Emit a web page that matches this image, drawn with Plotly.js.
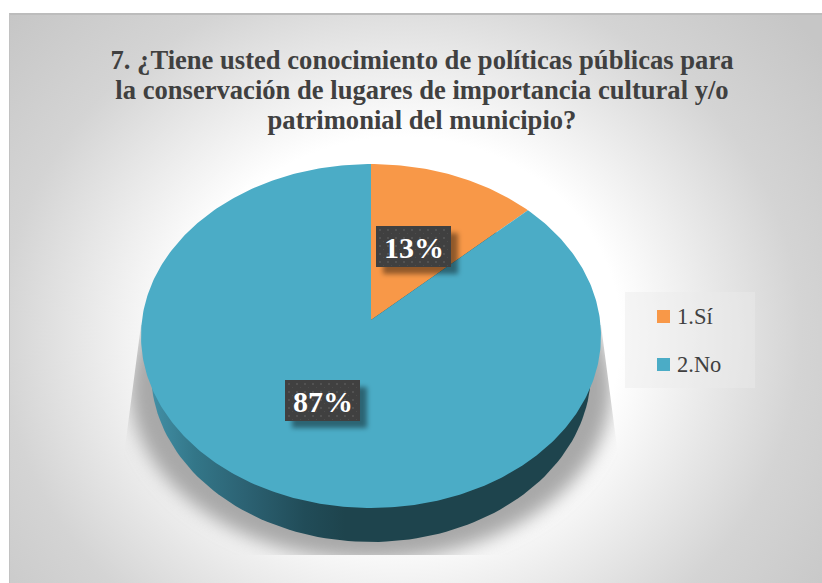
<!DOCTYPE html>
<html>
<head>
<meta charset="utf-8">
<script src="https://cdn.plot.ly/plotly-3.0.1.min.js"></script>
<style>
  html, body { margin: 0; padding: 0; background: #fff; width: 822px; height: 583px; overflow: hidden; }
  #panel {
    position: absolute; left: 9px; top: 13px; width: 813px; height: 570px;
    box-sizing: border-box; border-top: 2px solid #bcbcbc; border-left: 1px solid #c2c2c2;
    background: radial-gradient(ellipse 400px 360px at 391px 320px, #fff 55%, #d4d4d4 100%, #c6c6c6 132%);
  }
  #chart { position: absolute; left: 0; top: 0; width: 822px; height: 583px; }
</style>
</head>
<body>
<div id="panel"></div>
<div id="chart"></div>
<script>
const categories = ['1.Sí', '2.No'];
const shares = [13, 87];
const sliceColors = ['#F89848', '#4BACC6'];
const titleLines = [
  '7. ¿Tiene usted conocimiento de políticas públicas para',
  'la conservación de lugares de importancia cultural y/o',
  'patrimonial del municipio?'
];
const serif = '"Liberation Serif", serif';
const inkColor = '#404040';

// Tilted disc: a perspective map from the unit circle to the drawn top face.
const disc = { cx: 371, cy: 320, k: 229, a: -140.74, c: 0.093 };
function project(turn) {
  const ang = turn * 2 * Math.PI;
  const u = Math.sin(ang), v = Math.cos(ang), w = 1 + disc.c * v;
  return [disc.cx + disc.k * u / w, (disc.cy + disc.a * v) / w];
}

function wedge(fromShare, toShare) {
  const xs = [disc.cx], ys = [disc.cy];
  const steps = Math.ceil((toShare - fromShare) * 4);
  for (let i = 0; i <= steps; i++) {
    const p = project((fromShare + (toShare - fromShare) * i / steps) / 100);
    xs.push(p[0]); ys.push(p[1]);
  }
  xs.push(disc.cx); ys.push(disc.cy);
  return { xs, ys };
}

// Lower rim of the disc, seen below the top face.
const rim = { cx: 371, cy: 372, rx: 220, ry: 170 };
const rimX = [], rimY = [];
for (let d = 0; d <= 360; d += 2) {
  rimX.push(rim.cx + rim.rx * Math.cos(d * Math.PI / 180));
  rimY.push(rim.cy + rim.ry * Math.sin(d * Math.PI / 180));
}

const traces = [{
  type: 'scatter', mode: 'lines', x: rimX, y: rimY, fill: 'toself',
  line: { width: 0 }, hoverinfo: 'skip', showlegend: false,
  fillgradient: {
    type: 'horizontal', start: 145, stop: 345,
    colorscale: [[0, '#4493aa'], [0.25, '#337688'], [0.5, '#2c6273'], [0.8, '#214c58'], [1, '#1E444D']]
  }
}];
let running = 0;
shares.forEach((share, i) => {
  const w = wedge(running, running + share);
  running += share;
  traces.push({
    type: 'scatter', mode: 'lines', name: categories[i], x: w.xs, y: w.ys,
    fill: 'toself', fillcolor: sliceColors[i], line: { width: 0, color: sliceColors[i] },
    hoverinfo: 'name', showlegend: false
  });
});

function svgUri(w, h, body) {
  return 'data:image/svg+xml;charset=utf-8,' + encodeURIComponent(
    '<svg xmlns="http://www.w3.org/2000/svg" width="' + w + '" height="' + h + '" viewBox="0 0 ' + w + ' ' + h + '">' + body + '</svg>');
}

// Soft cast shadow under the disc, cut off by a flared clip.
const castShadow = svgUri(822, 583,
  '<defs><filter id="b" x="-20%" y="-20%" width="140%" height="140%"><feGaussianBlur stdDeviation="9"/></filter>' +
  '<clipPath id="c"><polygon points="141,325 601,325 620,470 650,555 100,555 122,470"/></clipPath></defs>' +
  '<g clip-path="url(#c)"><ellipse cx="371" cy="388" rx="241" ry="172" fill="#a8a8a8" filter="url(#b)"/></g>');

// Dark dotted plate with a drop shadow behind each percentage.
const plate = svgUri(95, 61,
  '<defs><pattern id="p" width="8" height="8" patternUnits="userSpaceOnUse"><rect width="8" height="8" fill="#404040"/>' +
  '<rect x="3" y="3" width="2" height="2" fill="#525252"/><rect x="7" y="7" width="1" height="1" fill="#4c4c4c"/></pattern>' +
  '<filter id="s" x="-20%" y="-20%" width="140%" height="140%"><feGaussianBlur stdDeviation="2.6"/></filter></defs>' +
  '<rect x="7" y="7" width="75" height="41" fill="#000" fill-opacity="0.42" filter="url(#s)"/>' +
  '<rect width="75" height="41" fill="url(#p)"/>');

const plateBoxes = [{ x: 376, y: 226 }, { x: 285, y: 380 }];
const legendRows = [316.5, 364.5];

const images = [{
  source: castShadow, xref: 'x', yref: 'y', x: 0, y: 0, sizex: 822, sizey: 583,
  xanchor: 'left', yanchor: 'top', sizing: 'stretch', layer: 'below'
}];
const annotations = [];
const shapes = [{
  type: 'rect', xref: 'x', yref: 'y', x0: 625, x1: 755, y0: 292, y1: 388, layer: 'below',
  fillcolor: 'rgba(235,235,235,0.45)', line: { width: 0 }
}];

shares.forEach((share, i) => {
  images.push({
    source: plate, xref: 'x', yref: 'y', x: plateBoxes[i].x, y: plateBoxes[i].y, sizex: 95, sizey: 61,
    xanchor: 'left', yanchor: 'top', sizing: 'stretch', layer: 'above'
  });
  annotations.push({
    xref: 'x', yref: 'y', x: plateBoxes[i].x + 37.5, y: plateBoxes[i].y + 21.5, showarrow: false,
    text: '<b>' + share + '%</b>', font: { family: serif, size: 30, color: '#fff' }
  });
  shapes.push({
    type: 'rect', xref: 'x', yref: 'y', x0: 657, x1: 670, y0: legendRows[i] - 6.5, y1: legendRows[i] + 6.5,
    fillcolor: sliceColors[i], line: { width: 0 }
  });
  annotations.push({
    xref: 'x', yref: 'y', x: 675, y: legendRows[i], xanchor: 'left', showarrow: false,
    text: categories[i], font: { family: serif, size: 22.5, color: inkColor }
  });
});

const layout = {
  width: 822, height: 583,
  margin: { l: 0, r: 0, t: 0, b: 0 },
  paper_bgcolor: 'rgba(0,0,0,0)', plot_bgcolor: 'rgba(0,0,0,0)',
  showlegend: false,
  title: {
    text: '<b>' + titleLines.join('<br>') + '</b>',
    x: 422 / 822, xref: 'paper', xanchor: 'center',
    y: 1 - 69 / 583, yref: 'paper', yanchor: 'top',
    font: { family: serif, size: 26.6, color: inkColor }
  },
  xaxis: { range: [0, 822], visible: false, fixedrange: true },
  yaxis: { range: [583, 0], visible: false, fixedrange: true },
  images, annotations, shapes
};

// Title lines sit closer together than the library's default spacing.
const titleLinePitch = 30;
Plotly.newPlot('chart', traces, layout, { displayModeBar: false, responsive: false }).then(() => {
  document.querySelectorAll('#chart .gtitle .line').forEach((line, i) => {
    line.setAttribute('dy', (i * titleLinePitch) + 'px');
  });
});
</script>
</body>
</html>
